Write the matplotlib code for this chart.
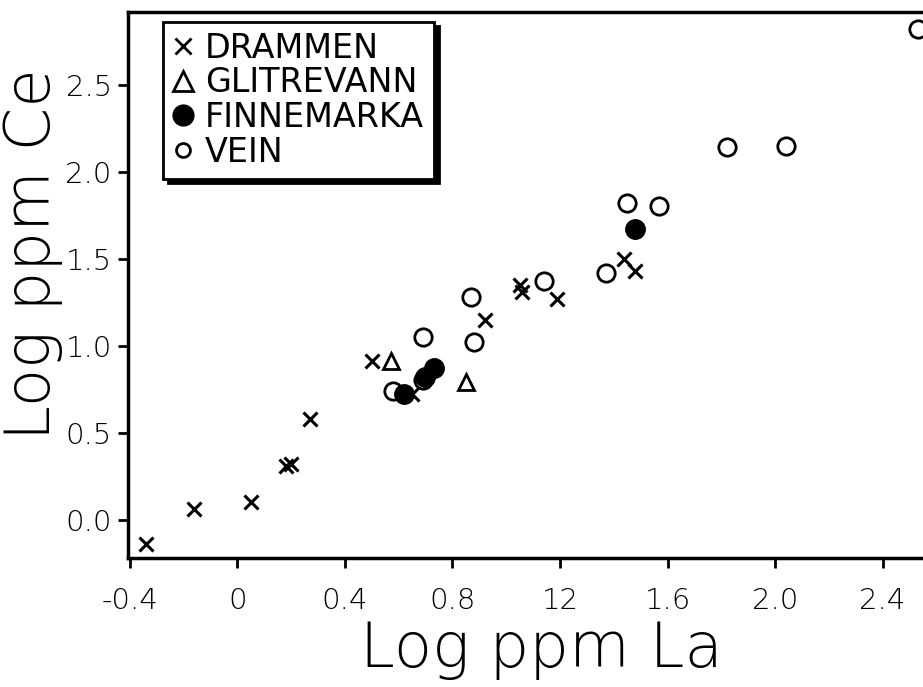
import matplotlib.pyplot as plt
from matplotlib.lines import Line2D
from matplotlib.patches import Shadow

# log La / log Ce pairs per sample group
drammen_la = [-0.34, -0.16, 0.05, 0.18, 0.20, 0.27, 0.50, 0.65, 0.92, 1.05, 1.06, 1.19, 1.44, 1.48]
drammen_ce = [-0.14, 0.06, 0.10, 0.31, 0.32, 0.58, 0.91, 0.72, 1.15, 1.35, 1.31, 1.27, 1.50, 1.43]

glitrevann_la = [0.57, 0.85]
glitrevann_ce = [0.91, 0.79]

finnemarka_la = [0.62, 0.70, 0.73, 1.48]
finnemarka_ce = [0.72, 0.82, 0.87, 1.67]

vein_la = [0.58, 0.69, 0.69, 0.87, 0.88, 1.14, 1.37, 1.45, 1.57, 1.82, 2.04, 2.53]
vein_ce = [0.74, 0.80, 1.05, 1.28, 1.02, 1.37, 1.42, 1.82, 1.80, 2.14, 2.15, 2.82]

xticks = [-0.4, 0, 0.4, 0.8, 1.2, 1.6, 2.0, 2.4]
xticklabels = ['-0.4', '0', '0.4', '0.8', '12', '1.6', '2.0', '2.4']
yticks = [0.0, 0.5, 1.0, 1.5, 2.0, 2.5]
yticklabels = ['0.0', '0.5', '1.0', '1.5', '2.0', '2.5']

plt.rcParams['font.family'] = ['DejaVu Sans']

fig = plt.figure(figsize=(9.23, 6.87), dpi=100)
ax = fig.add_axes([0.139, 0.188, 0.861, 0.795])

ax.plot(drammen_la, drammen_ce, 'x', color='k', ms=10, mew=2.2, ls='none')
ax.plot(glitrevann_la, glitrevann_ce, '^', color='k', mfc='white', ms=11.5, mew=2, ls='none')
ax.plot(vein_la, vein_ce, 'o', color='k', mfc='white', ms=12.5, mew=2, ls='none')
ax.plot(finnemarka_la, finnemarka_ce, 'o', color='k', ms=14, ls='none')

ax.set_xlim(-0.405, 2.55)
ax.set_ylim(-0.22, 2.92)
ax.set_xticks(xticks, xticklabels)
ax.set_yticks(yticks, yticklabels)
ax.tick_params(labelsize=21, width=2, length=7, direction='out')
ax.tick_params(axis='x', pad=14)
ax.tick_params(axis='y', pad=5)
for lbl in ax.get_xticklabels() + ax.get_yticklabels():
    lbl.set_fontweight(200)
for side in ['left', 'bottom', 'top']:
    ax.spines[side].set_linewidth(2.5)
ax.spines['right'].set_visible(False)

ax.set_xlabel('Log ppm La', fontsize=45, fontweight=200)
ax.set_ylabel('Log ppm Ce', fontsize=45, fontweight=200)
ax.xaxis.set_label_coords(0.52, -0.113)
ax.yaxis.set_label_coords(-0.082, 0.557)
ax.xaxis.label.set_va('top')

handles = [
    Line2D([], [], marker='x', color='k', ms=11, mew=2, ls='none'),
    Line2D([], [], marker='^', color='k', mfc='white', ms=14, mew=2, ls='none'),
    Line2D([], [], marker='o', color='k', ms=15, ls='none'),
    Line2D([], [], marker='o', color='k', mfc='white', ms=10, mew=2, ls='none'),
]
leg = ax.legend(handles, ['DRAMMEN', 'GLITREVANN', 'FINNEMARKA', 'VEIN'],
                loc='upper left', bbox_to_anchor=(0.044, 0.982), borderaxespad=0,
                fontsize=24, handlelength=0.6, handletextpad=0.35, labelspacing=0.05,
                borderpad=0.3, fancybox=False, framealpha=1)
leg.get_frame().set_edgecolor('k')
leg.get_frame().set_linewidth(2)

# solid drop shadow under the legend box
fig.canvas.draw()
shadow = Shadow(leg.legendPatch, 3.5, -3.5, color='k', alpha=1)
shadow.set_zorder(4.9)
ax.add_artist(shadow)

fig.savefig('out.png', dpi=100)
